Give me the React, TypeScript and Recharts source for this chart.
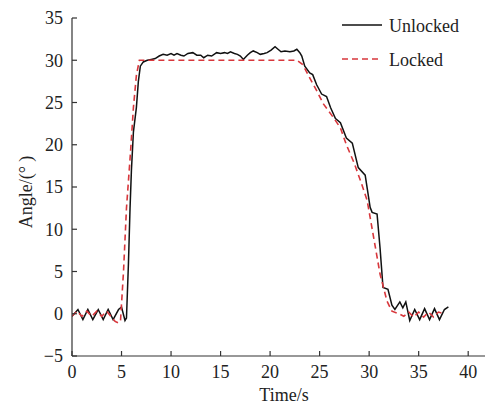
import { LineChart, Line, XAxis, YAxis, Label } from "recharts";

// time (s) and angle (deg)
const unlockedTime = [
  0, 0.6, 1.1, 1.6, 2.1, 2.65, 3.15, 3.65, 4.15, 4.7, 5.0, 5.35, 5.5, 5.7, 5.86, 6.0, 6.2, 6.5, 6.7,
  6.9, 7.2, 7.6, 8.0, 8.4, 8.8, 9.2, 9.6, 10.0, 10.3, 10.6, 11.0, 11.3, 11.7, 12.2, 12.6, 13.0, 13.3,
  13.7, 14.1, 14.6, 15.0, 15.4, 15.7, 16.0, 16.4, 16.7, 17.0, 17.3, 17.7, 18.0, 18.3, 18.7, 19.0,
  19.4, 19.7, 20.1, 20.5, 20.8, 21.1, 21.5, 22.0, 22.4, 22.7, 23.0, 23.2, 23.5, 24.0, 24.3, 24.7,
  25.2, 25.7, 26.1, 26.6, 27.1, 27.7, 28.3, 28.9, 29.6, 30.1, 30.3, 30.8, 31.1, 31.4, 31.9, 32.3,
  32.6, 33.1, 33.4, 33.7, 34.1, 34.6, 35.1, 35.6, 36.1, 36.6, 37.1, 37.6, 38.0,
];
const unlockedAngle = [
  -0.3, 0.5, -0.7, 0.5, -0.7, 0.5, -0.7, 0.5, -0.7, 0.5, 0.8, -0.8, -0.5, 6, 12.5, 17, 21.5, 24.4, 27.5,
  29.3, 29.8, 30.0, 30.1, 30.2, 30.5, 30.7, 30.6, 30.8, 30.6, 30.8, 30.6, 30.5, 30.8, 30.9, 30.6, 30.6, 30.3,
  30.6, 30.5, 30.9, 30.8, 30.9, 30.8, 31.0, 30.8, 30.7, 30.5, 30.1, 30.6, 30.9, 31.1, 30.9, 30.7,
  30.8, 30.9, 31.2, 31.6, 31.3, 31.0, 31.1, 31.0, 31.1, 31.3, 30.9, 30.5, 29.3, 28.5, 28.3, 27.1,
  26.0, 25.7, 24.4, 23.1, 22.6, 20.8, 20.2, 17.3, 16.4, 12.6, 12.0, 11.8, 7.8, 3.1, 2.9, 1.0,
  0.5, 1.4, 0.7, 1.4, -0.8, 0.5, -0.7, 0.6, -0.7, 0.6, -0.7, 0.5, 0.8,
];

const lockedTime = [
  0, 0.5, 1.0, 1.5, 2.0, 2.5, 3.0, 3.5, 4.0, 4.35, 4.7, 4.9, 5.2, 5.5, 5.9, 6.2, 6.5, 6.8, 22.7,
  23.3, 24.0, 24.7, 25.4, 26.4, 27.1, 27.7, 28.5, 29.2, 29.8, 30.4, 31.1, 31.8, 32.3, 33.0, 33.5,
  34.0, 34.5, 35.0, 35.5, 36.0, 36.5, 37.0, 37.5,
];
const lockedAngle = [
  -0.3, 0.3, -0.3, 0.3, -0.3, 0.3, -0.3, 0.3, -0.4, -0.9, -1.1, -0.8, 5, 12.5, 19, 24.4, 28.2, 30, 30,
  29.5, 27.9, 26.4, 24.8, 23.2, 22.0, 20.0, 17.8, 15.5, 13.4, 9.4, 4.7, 1.5, 0.3, 0, -0.3,
  0.2, -0.4, 0.2, -0.4, 0.2, -0.4, 0.2, 0,
];

const xTicks = [0, 5, 10, 15, 20, 25, 30, 35, 40];
const yTicks = [-5, 0, 5, 10, 15, 20, 25, 30, 35];

const unlocked = unlockedTime.map((t, i) => ({ t, v: unlockedAngle[i] }));
const locked = lockedTime.map((t, i) => ({ t, v: lockedAngle[i] }));

const FONT = "'Liberation Serif', 'Times New Roman', serif";
const fmt = (v: number) => (v < 0 ? "\u2212" + Math.abs(v) : String(v));

const XTick = ({ x, y, payload }: any) => (
  <g>
    <line x1={x} y1={y} x2={x} y2={y - 5} stroke="#333" strokeWidth={1.2} />
    <text x={x} y={y + 22} textAnchor="middle" fontSize={18} fontFamily={FONT} fill="#222">
      {fmt(payload.value)}
    </text>
  </g>
);

const YTick = ({ x, y, payload }: any) => (
  <g>
    <line x1={x} y1={y} x2={x + 5} y2={y} stroke="#333" strokeWidth={1.2} />
    <text x={x - 9} y={y} dy="0.35em" textAnchor="end" fontSize={18} fontFamily={FONT} fill="#222">
      {fmt(payload.value)}
    </text>
  </g>
);

// legend drawn over the chart so it does not shrink the plot area
const LegendBox = () => (
  <svg
    width={150}
    height={60}
    style={{ position: "absolute", left: 334, top: 5, overflow: "visible" }}
  >
    <line x1={0} y1={12} x2={40} y2={12} stroke="#111" strokeWidth={1.5} />
    <text x={47} y={19} fontSize={18} fontFamily={FONT} fill="#222">Unlocked</text>
    <line x1={0} y1={46} x2={40} y2={46} stroke="#d8373c" strokeWidth={1.6} strokeDasharray="6 4" />
    <text x={47} y={53} fontSize={18} fontFamily={FONT} fill="#222">Locked</text>
  </svg>
);

export default function App() {
  return (
    <div style={{ position: "relative", width: 485, height: 397 }}>
      <LineChart width={485} height={397} margin={{ top: 10, right: 5, left: 0, bottom: 0 }}>
        <XAxis
          dataKey="t"
          type="number"
          domain={[0, 42]}
          ticks={xTicks}
          allowDataOverflow
          height={49}
          tickLine={false}
          tickSize={0}
          tickMargin={0}
          tick={<XTick />}
          axisLine={{ stroke: "#333", strokeWidth: 1.2 }}
        >
          <Label
            content={() => (
              <text x={276} y={393} textAnchor="middle" fontSize={18} fontFamily={FONT} fill="#222">
                Time/s
              </text>
            )}
          />
        </XAxis>
        <YAxis
          type="number"
          domain={[-5, 35]}
          ticks={yTicks}
          width={64}
          tickLine={false}
          tickSize={0}
          tickMargin={0}
          tick={<YTick />}
          axisLine={{ stroke: "#333", strokeWidth: 1.2 }}
        >
          <Label
            content={() => (
              <text
                x={24}
                y={184}
                transform="rotate(-90, 24, 184)"
                textAnchor="middle"
                fontSize={18}
                fontFamily={FONT}
                fill="#222"
              >
                Angle/(° )
              </text>
            )}
          />
        </YAxis>
        <Line
          data={unlocked}
          dataKey="v"
          name="Unlocked"
          type="linear"
          stroke="#111"
          strokeWidth={1.5}
          dot={false}
          isAnimationActive={false}
        />
        <Line
          data={locked}
          dataKey="v"
          name="Locked"
          type="linear"
          stroke="#d8373c"
          strokeWidth={1.6}
          strokeDasharray="6 4"
          dot={false}
          isAnimationActive={false}
        />
      </LineChart>
      <LegendBox />
    </div>
  );
}
